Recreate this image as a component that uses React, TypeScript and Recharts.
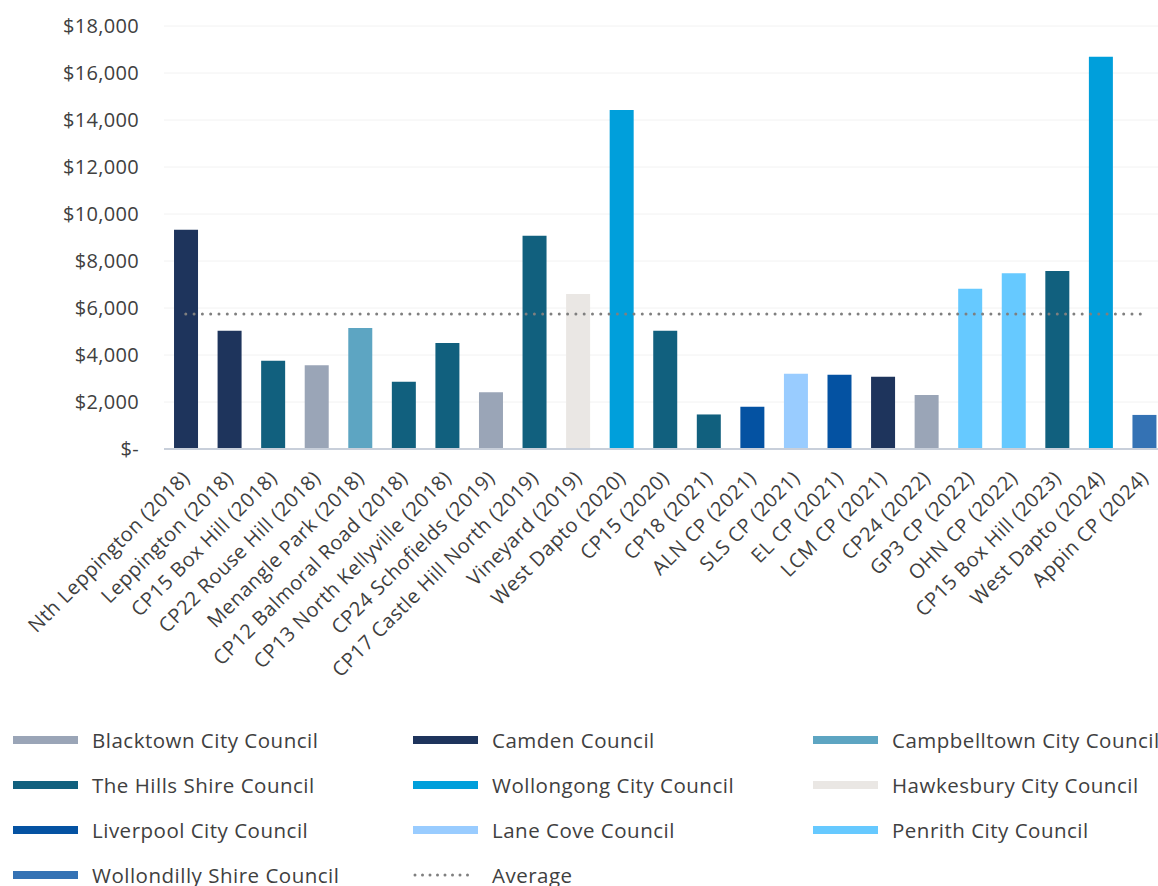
import React from "react";
import { ComposedChart, Bar, Line, XAxis, YAxis, CartesianGrid, Cell, Legend } from "recharts";

const categories = [
  "Nth Leppington (2018)", "Leppington (2018)", "CP15 Box Hill (2018)", "CP22 Rouse Hill (2018)",
  "Menangle Park (2018)", "CP12 Balmoral Road (2018)", "CP13 North Kellyville (2018)",
  "CP24 Schofields (2019)", "CP17 Castle Hill North (2019)", "Vineyard (2019)", "West Dapto (2020)",
  "CP15 (2020)", "CP18 (2021)", "ALN CP (2021)", "SLS CP (2021)", "EL CP (2021)", "LCM CP (2021)",
  "CP24 (2022)", "GP3 CP (2022)", "OHN CP (2022)", "CP15 Box Hill (2023)", "West Dapto (2024)",
  "Appin CP (2024)",
];

const values = [
  9330, 5030, 3760, 3560, 5150, 2860, 4510, 2410, 9070, 6600, 14430, 5030, 1470, 1800, 3200,
  3160, 3070, 2300, 6820, 7480, 7570, 16690, 1450,
];

const councilOf = [
  "Camden Council", "Camden Council", "The Hills Shire Council", "Blacktown City Council",
  "Campbelltown City Council", "The Hills Shire Council", "The Hills Shire Council",
  "Blacktown City Council", "The Hills Shire Council", "Hawkesbury City Council",
  "Wollongong City Council", "The Hills Shire Council", "The Hills Shire Council",
  "Liverpool City Council", "Lane Cove Council", "Liverpool City Council", "Camden Council",
  "Blacktown City Council", "Penrith City Council", "Penrith City Council",
  "The Hills Shire Council", "Wollongong City Council", "Wollondilly Shire Council",
];

const averageValue = 5740;

const councils = [
  "Blacktown City Council", "Camden Council", "Campbelltown City Council",
  "The Hills Shire Council", "Wollongong City Council", "Hawkesbury City Council",
  "Liverpool City Council", "Lane Cove Council", "Penrith City Council",
  "Wollondilly Shire Council",
];

const councilColors = [
  "#9AA5B7", "#1E345C", "#5DA5C2", "#11607E", "#009FDB", "#EAE7E4", "#0452A2", "#99CCFF",
  "#66C9FF", "#3472B4",
];

const yTicks = [0, 2000, 4000, 6000, 8000, 10000, 12000, 14000, 16000, 18000];

const data = categories.map((name, i) => ({ name, value: values[i], avg: averageValue, council: councilOf[i] }));

const colorFor = (c: string) => councilColors[councils.indexOf(c)];

const FONT = "'Open Sans', Lato, sans-serif";
const TEXT = "#404040";

const fmt = (v: number) => (v === 0 ? "$-" : "$" + v.toLocaleString("en-US"));

const XTick = (props: any) => {
  const { x, y, payload } = props;
  return (
    <g transform={`translate(${x + 1},${y + 18})`}>
      <text transform="rotate(-45)" textAnchor="end" fontFamily={FONT} fontSize={20} letterSpacing={0.5} fill={TEXT} dy={6}>
        {payload.value}
      </text>
    </g>
  );
};

const LegendContent = () => {
  const items = [...councils.map((c, i) => ({ name: c, color: councilColors[i], dotted: false })), { name: "Average", color: "#7F7F7F", dotted: true }];
  return (
    <div style={{ position: "relative", width: 1170, height: 170 }}>
      {items.map((it, i) => {
        const col = i % 3;
        const row = Math.floor(i / 3);
        return (
          <div key={it.name} style={{ position: "absolute", left: 13 + col * 400, top: row * 45, height: 24, display: "flex", alignItems: "center", whiteSpace: "nowrap" }}>
            <svg width={66} height={12} style={{ display: "block" }}>
              {it.dotted ? (
                <line x1={2} y1={6} x2={62} y2={6} stroke={it.color} strokeWidth={3} strokeDasharray="0 7.5" strokeLinecap="round" />
              ) : (
                <rect x={0} y={2} width={65} height={8} fill={it.color} />
              )}
            </svg>
            <span style={{ marginLeft: 13, fontFamily: FONT, fontSize: 20.5, letterSpacing: 0.5, color: TEXT }}>{it.name}</span>
          </div>
        );
      })}
    </div>
  );
};

export default function App() {
  return (
    <div style={{ position: "fixed", left: 0, top: 0, width: 1158, height: 886, overflow: "hidden", background: "#fff" }}>
      <ComposedChart width={1170} height={886} data={data} margin={{ top: 26, right: 4, left: 0, bottom: 0 }} barCategoryGap="23%">
        <CartesianGrid vertical={false} stroke="#F2F2F2" />
        <XAxis
          dataKey="name"
          interval={0}
          height={437}
          tick={<XTick />}
          tickLine={false}
          axisLine={{ stroke: "#C8CFDA", strokeWidth: 2 }}
        />
        <YAxis
          width={164}
          domain={[0, 18000]}
          ticks={yTicks}
          tickFormatter={fmt}
          axisLine={false}
          tickLine={false}
          tickSize={0}
          tickMargin={25}
          tick={{ fontFamily: FONT, fontSize: 20, letterSpacing: 0.3, fill: TEXT }}
        />
        <Legend
          layout="horizontal"
          verticalAlign="middle"
          align="center"
          content={<LegendContent />}
          wrapperStyle={{ position: "absolute", top: 728, left: 0, width: 1170 }}
        />
        <Bar dataKey="value" isAnimationActive={false} legendType="none">
          {data.map((d, i) => (
            <Cell key={i} fill={colorFor(d.council)} />
          ))}
        </Bar>
        <Line
          dataKey="avg"
          isAnimationActive={false}
          dot={false}
          activeDot={false}
          stroke="#7F7F7F"
          strokeWidth={3}
          strokeDasharray="0 8.3"
          strokeLinecap="round"
          legendType="none"
        />
      </ComposedChart>
    </div>
  );
}
